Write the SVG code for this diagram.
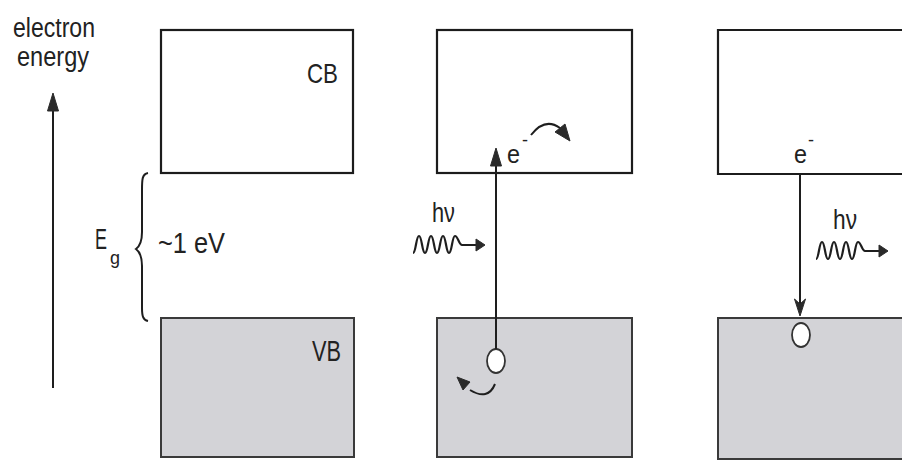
<svg xmlns="http://www.w3.org/2000/svg" width="902" height="461" viewBox="0 0 902 461">
<style>
.cb{fill:#ffffff;stroke:#1c1c1c;stroke-width:2.2}
.vb{fill:#d3d3d7;stroke:#3a3a3a;stroke-width:2}
.t{font-family:"Liberation Sans",Arial,sans-serif;fill:#222222}
.ln{fill:none;stroke:#1e1e1e;stroke-width:2}
.ah{fill:#2a2a2a;stroke:#2a2a2a;stroke-width:1;stroke-linejoin:round}
.hole{fill:#ffffff;stroke:#333;stroke-width:1.8}
.wave{fill:none;stroke:#1e1e1e;stroke-width:2.2}
</style>
<defs>
<g id="photon">
<path class="wave" d="M413,253 C416,253 416,236 419,236 S422,253 425,253 S428,236 431,236 S434,253 437,253 S440,236 443,236 S446,253 449,253 S452,236 455,236 S459,245 462,245 L477,245"/>
<polygon class="ah" points="485,245 476,239 476,251"/>
</g>
</defs>
<rect width="902" height="461" fill="#ffffff"/>

<g id="axis">
<text class="t" x="54" y="37" font-size="27" text-anchor="middle" textLength="82" lengthAdjust="spacingAndGlyphs">electron</text>
<text class="t" x="53" y="66" font-size="27" text-anchor="middle" textLength="72" lengthAdjust="spacingAndGlyphs">energy</text>
<line class="ln" x1="53" y1="388" x2="53" y2="108"/>
<polygon class="ah" points="53,93 47.5,111 58.5,111"/>
</g>

<g id="gap-label">
<text class="t" font-size="29" transform="translate(95,249) scale(0.62,1)">E</text>
<text class="t" font-size="18" x="110" y="264">g</text>
<path class="ln" stroke-width="1.6" d="M148,173 C142,174 142,180 142,190 L142,232 C142,242 140,246 136,249 C140,252 142,256 142,266 L142,308 C142,316 143,320 148,321"/>
<text class="t" x="158" y="253" font-size="30" textLength="67" lengthAdjust="spacingAndGlyphs">~1 eV</text>
</g>

<g id="cb1">
<rect class="cb" x="161" y="30" width="192" height="143"/>
<text class="t" x="307" y="83" font-size="28" textLength="31" lengthAdjust="spacingAndGlyphs">CB</text>
</g>
<g id="vb1">
<rect class="vb" x="161" y="318" width="193" height="139"/>
<text class="t" x="312" y="361" font-size="29" textLength="29" lengthAdjust="spacingAndGlyphs">VB</text>
</g>

<g id="cb2">
<rect class="cb" x="437" y="30" width="195" height="143"/>
<text class="t" x="507" y="163" font-size="25" textLength="13" lengthAdjust="spacingAndGlyphs">e</text>
<text class="t" x="522" y="146" font-size="18">-</text>
</g>
<g id="vb2">
<rect class="vb" x="437" y="318" width="195" height="139"/>
<ellipse class="hole" cx="496" cy="361" rx="9" ry="12"/>
</g>

<g id="cb3">
<path class="cb" d="M904,30 L718,30 L718,174 L904,174"/>
<text class="t" x="794" y="163" font-size="25" textLength="13" lengthAdjust="spacingAndGlyphs">e</text>
<text class="t" x="808" y="146" font-size="18">-</text>
</g>
<g id="vb3">
<path class="vb" d="M904,318 L718,318 L718,459 L904,459 Z"/>
<ellipse class="hole" cx="801" cy="335" rx="9" ry="12"/>
</g>

<g id="photon-in">
<text class="t" x="432" y="222" font-size="27" textLength="23" lengthAdjust="spacingAndGlyphs">hν</text>
<use href="#photon"/>
</g>

<g id="photon-out">
<text class="t" x="833" y="229" font-size="27" textLength="24" lengthAdjust="spacingAndGlyphs">hν</text>
<use href="#photon" transform="translate(403,6)"/>
</g>

<g id="connectors">
<line class="ln" x1="496" y1="349" x2="496" y2="162"/>
<polygon class="ah" points="496,148 490.5,166 501.5,166"/>
<line class="ln" x1="800" y1="174" x2="800" y2="304"/>
<polygon class="ah" points="800,316 794.5,299 800,304 805.5,299"/>
<path class="ln" d="M531,135 Q545,117 560,128"/>
<polygon class="ah" points="570,141 555,132 565,124"/>
<path class="ln" d="M495,384 Q488,401 470,390"/>
<polygon class="ah" points="457,377 470,382 463,390"/>
</g>
</svg>
